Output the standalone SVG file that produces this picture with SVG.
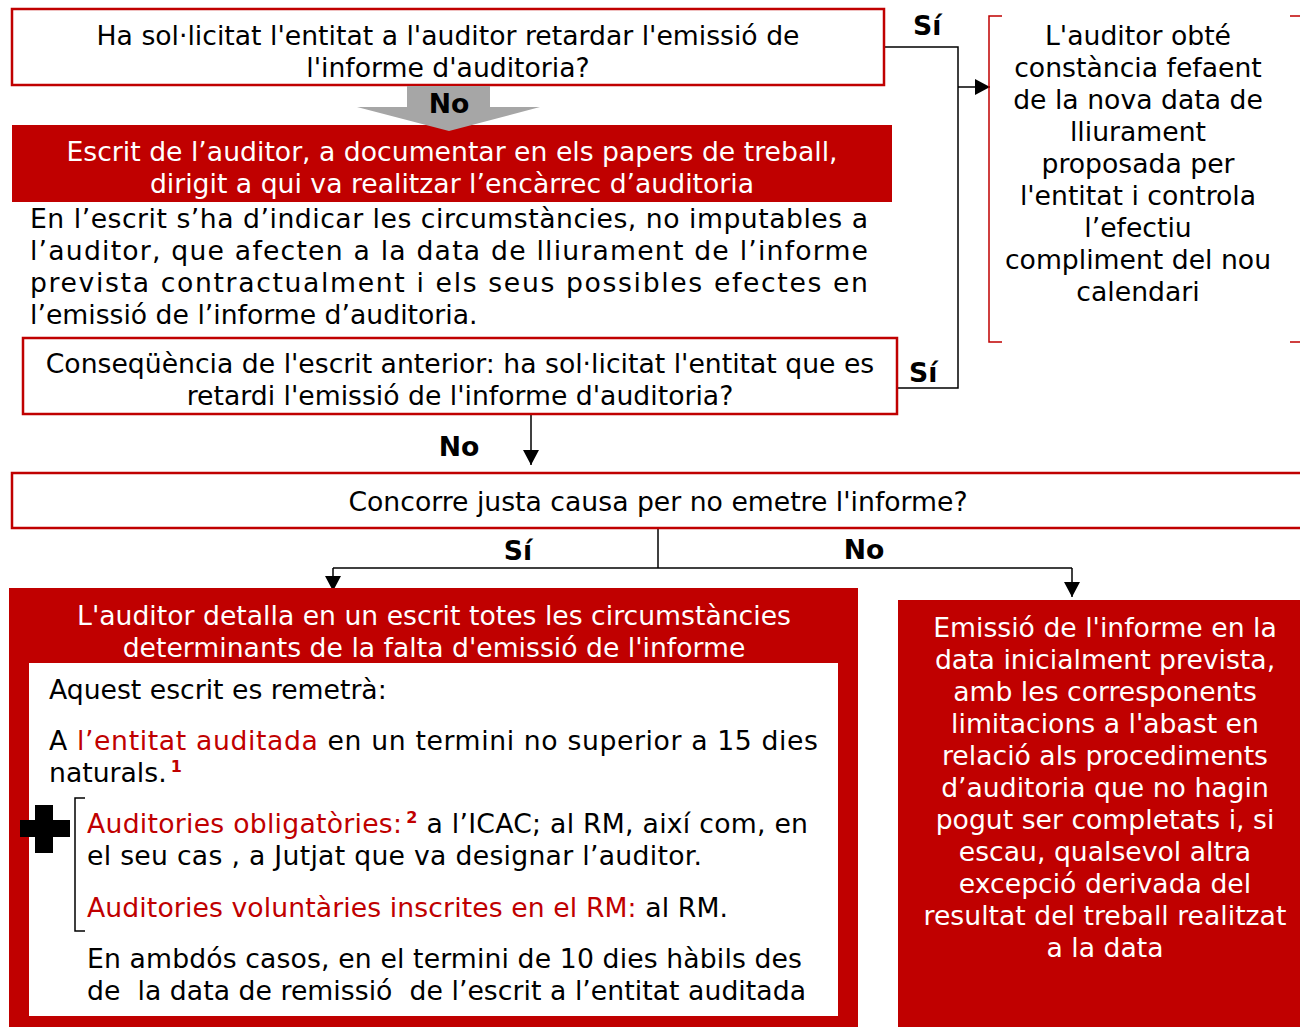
<svg xmlns="http://www.w3.org/2000/svg" width="1300" height="1027" viewBox="0 0 1300 1027">
<defs>
<style>
text{font-family:"DejaVu Sans","Verdana",sans-serif;font-size:26.67px;fill:#000}
.c{text-anchor:middle}
.w{fill:#fff}
.r{fill:#c00000}
.b{font-weight:bold}
.sup{font-size:16px;font-weight:bold;fill:#c00000}
.box{fill:#fff;stroke:#c00000;stroke-width:2.5}
.red{fill:#c00000}
.ln{fill:none;stroke:#000;stroke-width:1.5}
.brk{fill:none;stroke:#c00000;stroke-width:1.5}
</style>
<marker id="ah" markerUnits="userSpaceOnUse" markerWidth="16" markerHeight="16" refX="15" refY="8" orient="auto">
<path d="M0,0 L15,8 L0,16 Z" fill="#000"/>
</marker>
</defs>

<g id="connectors">
<polyline class="ln" points="884,47 958,47 958,388 897,388"/>
<line class="ln" x1="958" y1="87" x2="990" y2="87" marker-end="url(#ah)"/>
<line class="ln" x1="531" y1="414" x2="531" y2="465" marker-end="url(#ah)"/>
<line class="ln" x1="658" y1="528" x2="658" y2="568"/>
<line class="ln" x1="333" y1="568" x2="1072" y2="568"/>
<line class="ln" x1="333" y1="568" x2="333" y2="591" marker-end="url(#ah)"/>
<line class="ln" x1="1072" y1="568" x2="1072" y2="597" marker-end="url(#ah)"/>
<text class="b" x="913" y="35">Sí</text>
<text class="b" x="909" y="382">Sí</text>
<text class="b c" x="459" y="456">No</text>
<text class="b c" x="518" y="560">Sí</text>
<text class="b c" x="864" y="559">No</text>
</g>

<g id="q1">
<rect class="box" x="12" y="9" width="872" height="76"/>
<text class="c" x="448" y="45">Ha sol·licitat l'entitat a l'auditor retardar l'emissió de</text>
<text class="c" x="448" y="77">l'informe d'auditoria?</text>
</g>

<g id="escrit">
<rect class="red" x="12" y="125" width="880" height="77"/>
<text class="c w" x="452" y="161">Escrit de l’auditor, a documentar en els papers de treball,</text>
<text class="c w" x="452" y="193">dirigit a qui va realitzar l’encàrrec d’auditoria</text>
<text x="30" y="228" textLength="838" lengthAdjust="spacing">En l’escrit s’ha d’indicar les circumstàncies, no imputables a</text>
<text x="30" y="260" textLength="838" lengthAdjust="spacing">l’auditor, que afecten a la data de lliurament de l’informe</text>
<text x="30" y="292" textLength="838" lengthAdjust="spacing">prevista contractualment i els seus possibles efectes en</text>
<text x="30" y="324">l’emissió de l’informe d’auditoria.</text>
</g>

<g id="no-arrow">
<polygon points="407,86 490,86 490,107 540,107 449,131 357,107 407,107" fill="#a6a6a6"/>
<text class="b c" x="449" y="113">No</text>
</g>

<g id="q2">
<rect class="box" x="23" y="338" width="874" height="76"/>
<text class="c" x="460" y="373">Conseqüència de l'escrit anterior: ha sol·licitat l'entitat que es</text>
<text class="c" x="460" y="405">retardi l'emissió de l'informe d'auditoria?</text>
</g>

<g id="nova-data">
<path class="brk" d="M1002,16 L989,16 L989,342 L1002,342"/>
<path class="brk" d="M1290,16 L1300,16 M1290,342 L1300,342"/>
<text class="c" x="1138" y="45">L'auditor obté</text>
<text class="c" x="1138" y="77">constància fefaent</text>
<text class="c" x="1138" y="109">de la nova data de</text>
<text class="c" x="1138" y="141">lliurament</text>
<text class="c" x="1138" y="173">proposada per</text>
<text class="c" x="1138" y="205">l'entitat i controla</text>
<text class="c" x="1138" y="237">l’efectiu</text>
<text class="c" x="1138" y="269">compliment del nou</text>
<text class="c" x="1138" y="301">calendari</text>
</g>

<g id="q3">
<rect class="box" x="12" y="473" width="1300" height="55"/>
<text class="c" x="658" y="511">Concorre justa causa per no emetre l'informe?</text>
</g>

<g id="detall">
<rect class="red" x="9" y="588" width="849" height="439"/>
<rect x="29" y="663" width="809" height="353" fill="#fff"/>
<text class="c w" x="434" y="625">L'auditor detalla en un escrit totes les circumstàncies</text>
<text class="c w" x="434" y="657">determinants de la falta d'emissió de l'informe</text>
<text x="49" y="699">Aquest escrit es remetrà:</text>
<text x="49" y="750" textLength="769" lengthAdjust="spacing">A <tspan class="r">l’entitat auditada</tspan> en un termini no superior a 15 dies</text>
<text x="49" y="782">naturals.<tspan class="sup" dx="4" dy="-10">1</tspan></text>
<path d="M20,820 L35,820 L35,805 L53,805 L53,820 L70,820 L70,837 L53,837 L53,853 L35,853 L35,837 L20,837 Z" fill="#000"/>
<path d="M85,798 L75,798 L75,931 L85,931" fill="none" stroke="#000" stroke-width="1.5"/>
<text x="87" y="833" textLength="721" lengthAdjust="spacing"><tspan class="r">Auditories obligatòries:</tspan><tspan class="sup" dx="4" dy="-10">2</tspan><tspan dy="10"> a l’ICAC; al RM, així com, en</tspan></text>
<text x="87" y="865" textLength="615" lengthAdjust="spacing">el seu cas , a Jutjat que va designar l’auditor.</text>
<text x="87" y="917" textLength="641" lengthAdjust="spacing"><tspan class="r">Auditories voluntàries inscrites en el RM:</tspan> al RM.</text>
<text x="87" y="968" textLength="715" lengthAdjust="spacing">En ambdós casos, en el termini de 10 dies hàbils des</text>
<text x="87" y="1000" xml:space="preserve" textLength="719" lengthAdjust="spacing">de  la data de remissió  de l’escrit a l’entitat auditada</text>
</g>

<g id="emissio">
<rect class="red" x="898" y="600" width="402" height="427"/>
<text class="c w" x="1105" y="637">Emissió de l'informe en la</text>
<text class="c w" x="1105" y="669">data inicialment prevista,</text>
<text class="c w" x="1105" y="701">amb les corresponents</text>
<text class="c w" x="1105" y="733">limitacions a l'abast en</text>
<text class="c w" x="1105" y="765">relació als procediments</text>
<text class="c w" x="1105" y="797">d’auditoria que no hagin</text>
<text class="c w" x="1105" y="829">pogut ser completats i, si</text>
<text class="c w" x="1105" y="861">escau, qualsevol altra</text>
<text class="c w" x="1105" y="893">excepció derivada del</text>
<text class="c w" x="1105" y="925">resultat del treball realitzat</text>
<text class="c w" x="1105" y="957">a la data</text>
</g>
</svg>
